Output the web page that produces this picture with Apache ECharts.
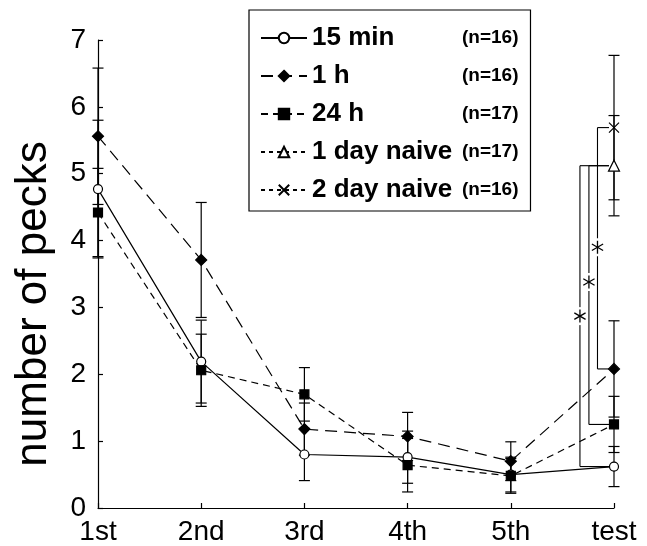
<!DOCTYPE html>
<html><head><meta charset="utf-8">
<script src="https://cdn.jsdelivr.net/npm/echarts@6/dist/echarts.min.js"></script>
<style>html,body{margin:0;padding:0;background:#fff}#c{width:647px;height:546px}</style>
</head><body><div id="c"></div>
<script>
const categories = ['1st', '2nd', '3rd', '4th', '5th', 'test'];
const seriesNames = ['15 min', '1 h', '24 h', '1 day naive', '2 day naive'];
const groupSizes = ['(n=16)', '(n=16)', '(n=17)', '(n=17)', '(n=16)'];
const min15 = [4.77, 2.19, 0.80, 0.76, 0.50, 0.62];
const min15Err = [1.03, 0.62, 0.39, 0.39, 0.26, 0.30];
const h1 = [5.56, 3.71, 1.18, 1.07, 0.70, 2.08];
const h1Err = [1.02, 0.86, 0.39, 0.36, 0.29, 0.72];
const h24 = [4.42, 2.06, 1.70, 0.64, 0.48, 1.25];
const h24Err = [0.66, 0.54, 0.40, 0.40, 0.26, 0.42];
const day1Naive = [null, null, null, null, null, 5.12];
const day1NaiveErr = [null, null, null, null, null, 0.75];
const day2Naive = [null, null, null, null, null, 5.69];
const day2NaiveErr = [null, null, null, null, null, 1.08];
const yMin = 0, yMax = 7, yStep = 1;
// significance brackets: [upper group, lower group, x position, asterisk height]
const brackets = [[3, 0, 4.67, 2.87], [3, 2, 4.757, 3.38], [4, 1, 4.84, 3.90]];

const means = [min15, h1, h24, day1Naive, day2Naive];
const errs = [min15Err, h1Err, h24Err, day1NaiveErr, day2NaiveErr];
const FONT = "'Liberation Sans', Arial, Helvetica, sans-serif";

const styles = [
  {symbol: 'circle', size: 9, fill: '#fff', dash: 'solid'},
  {symbol: 'diamond', size: 11, fill: '#000', dash: [12, 7]},
  {symbol: 'rect', size: 9, fill: '#000', dash: [7, 5]},
  {symbol: 'triangle', size: 11, fill: '#fff', dash: [4, 4]},
  {symbol: 'path://M0,0L10,10M10,0L0,10', size: 10, fill: '#000', dash: [4, 4]}
];

function pairs(arr) {
  const out = [];
  arr.forEach((v, i) => { if (v != null) out.push([i, v]); });
  return out;
}

function errRender(params, api) {
  const x = api.value(0), lo = api.value(1), hi = api.value(2);
  const p1 = api.coord([x, hi]), p2 = api.coord([x, lo]);
  const w = 5.5;
  const st = {stroke: '#000', lineWidth: 1.2};
  return {type: 'group', children: [
    {type: 'line', shape: {x1: p1[0], y1: p1[1], x2: p2[0], y2: p2[1]}, style: st},
    {type: 'line', shape: {x1: p1[0] - w, y1: p1[1], x2: p1[0] + w, y2: p1[1]}, style: st},
    {type: 'line', shape: {x1: p2[0] - w, y1: p2[1], x2: p2[0] + w, y2: p2[1]}, style: st}
  ]};
}

function bracketRender(params, api) {
  const x = api.value(0), top = api.value(1), bot = api.value(2), star = api.value(3), end = api.value(4);
  const pt = api.coord([x, top]), pb = api.coord([x, bot]), ps = api.coord([x, star]);
  const xe = api.coord([end, top])[0] - 5;
  const st = {stroke: '#000', lineWidth: 1.1};
  const r = 6.5;
  const arms = [90, 30, 150].map(a => {
    const rad = a * Math.PI / 180;
    return {type: 'line', shape: {x1: ps[0] - r * Math.cos(rad), y1: ps[1] - r * Math.sin(rad), x2: ps[0] + r * Math.cos(rad), y2: ps[1] + r * Math.sin(rad)}, style: {stroke: '#000', lineWidth: 1.3}};
  });
  return {type: 'group', children: [
    {type: 'line', shape: {x1: pt[0], y1: pt[1], x2: pb[0], y2: pb[1]}, style: st},
    {type: 'line', shape: {x1: pt[0], y1: pt[1], x2: xe, y2: pt[1]}, style: st},
    {type: 'line', shape: {x1: pb[0], y1: pb[1], x2: xe, y2: pb[1]}, style: st},
    {type: 'rect', shape: {x: ps[0] - 7, y: ps[1] - 9, width: 14, height: 18}, style: {fill: '#fff'}},
    ...arms
  ]};
}

const series = [];
means.forEach((m, k) => {
  const eb = [];
  m.forEach((v, i) => { if (v != null) eb.push([i, v - errs[k][i], v + errs[k][i]]); });
  series.push({
    type: 'custom', name: seriesNames[k] + ' err', renderItem: errRender, data: eb, z: 1,
    encode: {x: 0, y: [1, 2]}, silent: true
  });
});
const bData = brackets.map(b => [b[2], means[b[0]][5], means[b[1]][5], b[3], 5]);
series.push({type: 'custom', name: 'brackets', renderItem: bracketRender, data: bData, z: 1, encode: {x: 0, y: [1, 2]}, silent: true});
means.forEach((m, k) => {
  const s = styles[k];
  series.push({
    type: 'line', name: seriesNames[k], data: pairs(m), z: 3 + k,
    symbol: s.symbol, symbolSize: s.size, showAllSymbol: true,
    lineStyle: {color: '#000', width: 1.2, type: s.dash},
    itemStyle: {color: s.fill, borderColor: '#000', borderWidth: 1.2},
    emphasis: {disabled: true}, animation: false
  });
});

const chart = echarts.init(document.getElementById('c'), null, {renderer: 'canvas'});
chart.setOption({
  backgroundColor: '#fff',
  animation: false,
  grid: {left: 98, right: 33, top: 40, bottom: 36, containLabel: false},
  legend: {
    data: seriesNames, orient: 'vertical', left: 249, top: 10,
    padding: [15, 12, 8, 11], itemGap: 12, itemWidth: 46, itemHeight: 13,
    borderColor: '#000', borderWidth: 1.2, selectedMode: false, backgroundColor: '#fff',
    formatter: name => '{a|' + name + '}{b|' + groupSizes[seriesNames.indexOf(name)] + '}',
    textStyle: {
      rich: {
        a: {fontFamily: FONT, fontSize: 26, fontWeight: 'bold', color: '#000', width: 150, lineHeight: 30},
        b: {fontFamily: FONT, fontSize: 19, fontWeight: 'bold', color: '#000', lineHeight: 30}
      }
    }
  },
  xAxis: {
    type: 'value', min: 0, max: categories.length - 1, interval: 1,
    axisLine: {lineStyle: {color: '#000', width: 1.2}},
    axisTick: {inside: true, length: 5, lineStyle: {color: '#000', width: 1.2}},
    axisLabel: {formatter: v => categories[v], fontFamily: FONT, fontSize: 28, color: '#000', margin: 10},
    splitLine: {show: false}
  },
  yAxis: {
    type: 'value', min: yMin, max: yMax, interval: yStep,
    name: 'number of pecks', nameLocation: 'middle', nameGap: 42,
    nameTextStyle: {fontFamily: FONT, fontSize: 44, color: '#000', padding: [0, 60, 0, 0]},
    axisLine: {show: true, lineStyle: {color: '#000', width: 1.2}},
    axisTick: {show: true, inside: true, length: 5, lineStyle: {color: '#000', width: 1.2}},
    axisLabel: {fontFamily: FONT, fontSize: 28, color: '#000', margin: 12},
    splitLine: {show: false}
  },
  series: series
});
</script></body></html>
